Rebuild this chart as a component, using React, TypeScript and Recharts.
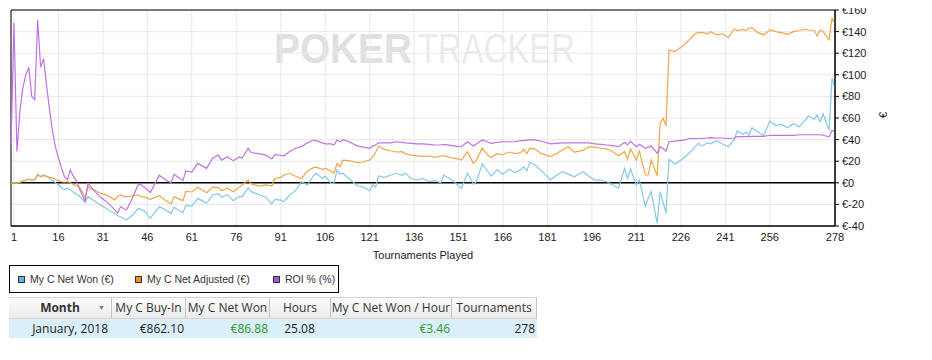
import React from 'react';
import {
  LineChart,
  Line,
  XAxis,
  YAxis,
  CartesianGrid,
  ReferenceLine,
  ReferenceArea,
} from 'recharts';

// tournament index for every sampled point
const tourneys = [
  0, 1, 2, 3, 4, 5, 6, 7, 8, 9, 10, 11, 12, 13, 14, 15, 16, 17, 18, 19, 20, 21, 22, 23, 24, 25, 26, 27, 28,
  30, 32, 34, 35, 36, 37, 38, 39, 41, 43, 44, 45, 47, 50, 52, 54, 55, 58, 59, 61, 63, 66, 68, 70, 71, 73, 75,
  77, 78, 80, 81, 84, 86, 88, 89, 91, 92, 94, 96, 98, 100, 102, 103, 105, 106, 108, 109, 110, 111, 112, 114,
  117, 119, 121, 122, 123, 124, 126, 128, 130, 132, 133, 135, 137, 139, 141, 143, 145, 146, 149, 151, 152,
  154, 156, 157, 159, 161, 162, 164, 166, 168, 170, 172, 173, 174, 175, 177, 179, 182, 184, 186, 188, 190,
  193, 195, 197, 199, 201, 203, 205, 207, 208, 209, 211, 212, 214, 215, 216, 218, 219, 220, 221, 222, 224,
  227, 229, 231, 232, 233, 235, 236, 238, 240, 242, 244, 245, 247, 248, 249, 250, 252, 254, 256, 258, 260,
  262, 264, 266, 268, 269, 271, 272, 273, 274, 276, 277, 278,
];

const netWon = [
  0, 0, 0, 0.5, 1.5, 2.5, 3.5, 2.5, 2.7, 8, 5.5, 7.5, 6, 4, 2, 0, -2, -4.5, -6.5, -5, -6.5, -8.5, -10.5, -12, -15, -18, -12.8, -14.5, -16.5,
  -20, -23.5, -27, -28.5, -30.5, -31.4, -33, -34.4, -29.8, -23.6, -25, -26, -32.9, -22, -25, -28.3, -22.7, -27.7, -21, -21.5, -14.4, -19, -11.3, -10, -13.4, -11, -16.5,
  -12.5, -13, -4.5, -8.2, -11.3, -13.4, -19.6, -15.3, -16, -17.5, -11.3, -7.3, 1, -2, 6.3, 8.8, 4, 6, -0.5, -0.5, 11.9, 8, 9, 4,
  -3, -4, -7.3, -1.6, -4, 6.3, 5, 7, 8.8, 7, 9, 4, 2.6, 4, 1, 2, 0, 7.2, 2, -3, -5,
  8.8, -1.4, 1, 17.4, 10, 6.3, 12, 8, 12.5, 9.5, 12, 14.9, 11, 19, 16, 11, 2.6, 7, 10.3, 8, 5.6,
  10.3, 6, 2.5, 2.6, 1, -2, -5, 13.4, 4, 12.8, -2, 2.6, -22, -14, -8.2, -37.5, -8.2, -18, -28.3, 21.8, 17.4,
  23, 28, 34, 36.5, 34, 37, 36, 39, 36, 33.4, 40, 48, 45, 47, 44, 51, 47, 43.6, 57.2, 53, 54,
  51, 55, 52, 58, 62, 58.7, 62.8, 56.6, 63.7, 48.5, 97, 86.9,
];

const netAdjusted = [
  0, 0, 0, 0.5, 1.5, 2.5, 3.5, 2.5, 2.7, 7, 6, 6.5, 6, 5, 4.5, 3, 2, 1, 0.5, 1, 0, -1.5, -2.5, -3.6, -8, -13.8, -3.6, -6, -6.5,
  -9.5, -11, -14, -16, -12.5, -11.3, -12.5, -13, -12, -11.3, -13, -13, -15.3, -12, -16, -19.6, -13, -16.5, -8, -8.5, -4.2, -9.2, -4, -4.5, -7.3, -5, -8.2,
  -4, -2, 2.6, -1, -3, -2, -3, 4, 5, 7.2, 8.8, 6, 4, 11, 14, 14.5, 12.5, 13.4, 11, 8.8, 18, 15, 21, 20.5,
  18.6, 19.5, 21, 24, 28, 34, 31, 29.7, 28.5, 28.8, 27, 25.7, 25, 24.5, 24.8, 23.5, 24.8, 25, 23, 22, 21,
  28.8, 18, 21, 32, 25, 23.6, 27, 26, 28.5, 27, 28, 31, 27, 32, 31, 27, 24.2, 27, 30.4, 33.4, 28.5,
  30, 33.4, 33, 32, 31.5, 28.8, 25, 29, 22, 31.3, 21, 29.4, 7.2, 7.2, 21, 6.5, 55, 59.7, 52.6, 123, 121.4,
  127.6, 132.9, 138.4, 139, 139.3, 138, 139.9, 137, 138, 134.4, 142.4, 141, 142, 141, 143, 143.6, 139, 136.9, 141.5, 140, 139,
  137.5, 140, 141, 142.4, 141.5, 141, 136, 141.5, 140, 132.5, 152.2, 147.7,
];

const roiPct = [
  35, 148, 29, 66, 88, 100, 107, 80, 77, 151, 107, 115, 90, 68, 48, 33, 23, 14, 6, 3, 12, 6, 2, -5, -11, -17.5, 0, -4, -7,
  -13, -17, -22, -25, -28, -22, -24, -25, -14, -1, -2, -4, -9, 7, 3, 0, 8, 2, 11, 10, 18, 13.4, 22.7, 25.7, 21, 24, 20.5,
  24, 23, 32, 28, 26.7, 25.7, 22, 26, 25.5, 24.8, 29, 32, 33.5, 37, 39.6, 39, 37, 36, 36, 35, 39.6, 38, 40, 38,
  34, 33, 32, 34, 35, 37, 37, 37, 38, 37.5, 37, 36.5, 36, 36, 35.5, 35, 35, 35.5, 34.5, 33.5, 33.4,
  38, 34, 36, 39.6, 37.5, 36.5, 37.5, 38, 38, 38, 39, 39, 39.5, 40, 39.5, 38.5, 36, 36.5, 37, 37, 37,
  37, 37, 36, 35.6, 35, 34.4, 33.4, 37.5, 35, 38.4, 33.4, 35.6, 32, 33, 34, 27.3, 33.4, 31.5, 29.4, 38, 38.5,
  39.5, 41, 41, 41, 41, 41.5, 41.8, 41.5, 41.5, 41, 41.5, 42.7, 42.7, 42.7, 42.7, 43, 43, 43, 44, 44, 44,
  44, 44, 44.5, 44.5, 44.5, 44.5, 44.5, 44.5, 44, 42.5, 48.6, 47,
];

const xTicks = [1, 16, 31, 46, 61, 76, 91, 106, 121, 136, 151, 166, 181, 196, 211, 226, 241, 256, 278];
const yTicks = [-40, -20, 0, 20, 40, 60, 80, 100, 120, 140, 160];

const seriesNames = ['My C Net Won (€)', 'My C Net Adjusted (€)', 'ROI % (%)'];

const tableHeaders = ['Month', 'My C Buy-In', 'My C Net Won', 'Hours', 'My C Net Won / Hour', 'Tournaments'];
const tableRow = ['January, 2018', '€862.10', '€86.88', '25.08', '€3.46', '278'];

const data = tourneys.map((t, i) => ({
  t,
  net: netWon[i],
  adj: netAdjusted[i],
  roi: roiPct[i],
}));

const lineColors = ['#86c8e6', '#f0a647', '#c072e2'];
const swatchColors = ['#5ab2ea', '#f28c1c', '#a84fe2'];
const colWidths = [103, 74, 84, 61, 121, 85];
const greenCols = [2, 4];

const tickStyle = { fontSize: 11, fill: '#1a1a1a', fontFamily: '"Liberation Sans", Arial, sans-serif' };

export default function App() {
  return (
    <div style={{ position: 'relative', width: 916, height: 344, fontFamily: '"Liberation Sans", Arial, sans-serif' }}>
      {/* watermark behind the plot */}
      <svg width={916} height={80} style={{ position: 'absolute', left: 0, top: 0 }}>
        <text x={266} y={55} fontSize={43} fontWeight="bold" fill="#e0e0e0" textLength={138} lengthAdjust="spacingAndGlyphs"
          fontFamily='"Liberation Sans", Arial, sans-serif'>POKER</text>
        <text x={410} y={55} fontSize={43} fill="#ebebeb" textLength={157} lengthAdjust="spacingAndGlyphs"
          fontFamily='"Liberation Sans", Arial, sans-serif'>TRACKER</text>
      </svg>

      {/* chart sits 8px higher so the top tick label is not clipped */}
      <div style={{ position: 'absolute', left: 0, top: -8 }}>
        <LineChart width={916} height={263} data={data} margin={{ top: 10, right: 29, left: 3, bottom: 0 }}>
          <CartesianGrid stroke="#e8e8e8" />
          <XAxis
            dataKey="t"
            type="number"
            domain={[0, 278]}
            ticks={xTicks}
            interval={0}
            tickLine={false}
            tickSize={4}
            tickMargin={3}
            height={37}
            axisLine={{ stroke: '#000' }}
            tick={tickStyle}
            label={{ value: 'Tournaments Played', position: 'insideBottom', offset: 4, style: tickStyle }}
          />
          <YAxis
            orientation="right"
            domain={[-40, 160]}
            ticks={yTicks}
            interval={0}
            width={60}
            tickSize={4}
            tickMargin={3}
            tickFormatter={(v: number) => `€${v}`}
            axisLine={{ stroke: '#000' }}
            tickLine={{ stroke: '#000' }}
            tick={tickStyle}
            label={{ value: '€', angle: -90, position: 'insideLeft', offset: 48, style: tickStyle }}
          />
          <ReferenceArea x1={0} x2={278} y1={-40} y2={160} fill="none" fillOpacity={0} stroke="#000" strokeOpacity={1} />
          <ReferenceLine y={0} stroke="#000" strokeWidth={1.5} />
          <Line type="linear" dataKey="net" stroke={lineColors[0]} strokeWidth={1.2} dot={false} isAnimationActive={false} />
          <Line type="linear" dataKey="adj" stroke={lineColors[1]} strokeWidth={1.2} dot={false} isAnimationActive={false} />
          <Line type="linear" dataKey="roi" stroke={lineColors[2]} strokeWidth={1.2} dot={false} isAnimationActive={false} />
        </LineChart>
      </div>

      {/* legend box */}
      <div style={{ position: 'absolute', left: 1, top: 257, width: 328, height: 26, border: '1px solid #000', background: '#fff' }}>
        {seriesNames.map((name, i) => {
          const left = [8, 125, 263][i];
          return (
            <div key={name} style={{ position: 'absolute', left, top: 6, display: 'flex', alignItems: 'center', whiteSpace: 'nowrap' }}>
              <span style={{ display: 'inline-block', width: 5, height: 5, background: swatchColors[i], border: '1px solid #333', marginRight: 5 }} />
              <span style={{ fontSize: 10.5, color: '#333', lineHeight: '14px' }}>{name}</span>
            </div>
          );
        })}
      </div>

      {/* grid table */}
      <div style={{ position: 'absolute', left: 1, top: 289, fontFamily: '"Open Sans", "Noto Sans", sans-serif', fontSize: 12 }}>
        <div style={{ display: 'flex', height: 20, background: 'linear-gradient(#fcfcfc, #ebebeb)', borderTop: '1px solid #d4d4d4', borderBottom: '1px solid #d4d4d4' }}>
          {tableHeaders.map((h, i) => (
            <div key={h} style={{
              width: colWidths[i], boxSizing: 'border-box', borderRight: '1px solid #c4c4c4', color: '#333',
              textAlign: 'center', lineHeight: '20px', whiteSpace: 'nowrap', overflow: 'hidden', position: 'relative',
              fontWeight: i === 0 ? 'bold' : 'normal',
            }}>
              {h}
              {i === 0 && (
                <span style={{ position: 'absolute', right: 6, top: 0, fontSize: 7, color: '#777' }}>▼</span>
              )}
            </div>
          ))}
        </div>
        <div style={{ display: 'flex', height: 19, background: '#daeff9' }}>
          {tableRow.map((c, i) => (
            <div key={i} style={{
              width: colWidths[i], boxSizing: 'border-box', textAlign: i === 3 ? 'center' : 'right',
              paddingRight: i === 0 ? 4 : 2, lineHeight: '19px', whiteSpace: 'nowrap',
              color: greenCols.includes(i) ? '#2b9b2b' : '#222',
            }}>
              {c}
            </div>
          ))}
        </div>
      </div>
    </div>
  );
}
